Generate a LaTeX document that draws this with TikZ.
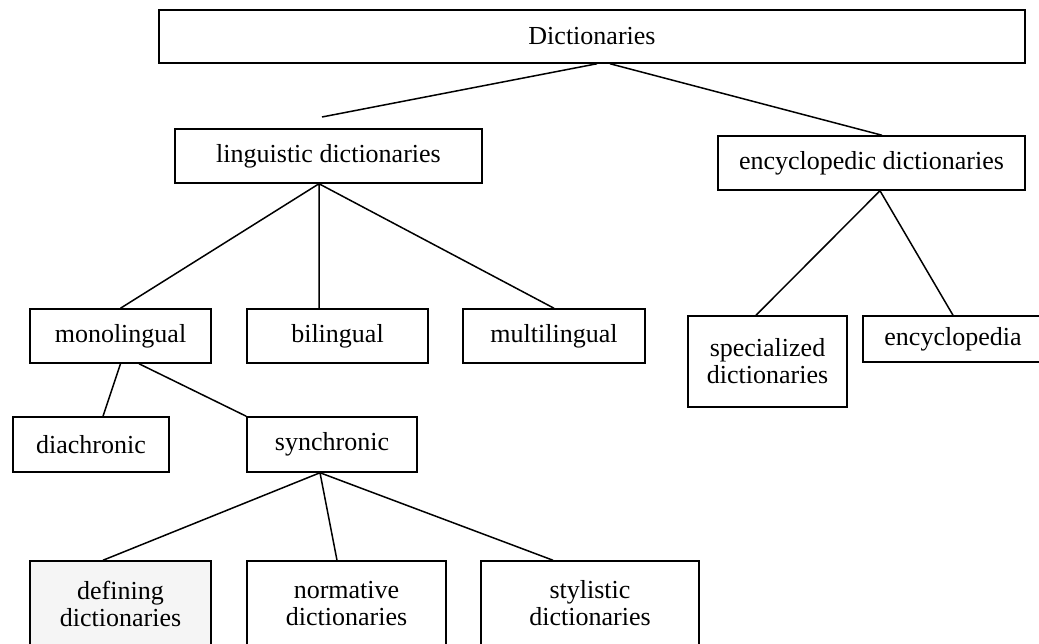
\documentclass[tikz,border=0pt]{standalone}
\usepackage{fontspec}
\setmainfont{Liberation Serif}

\begin{document}
\begin{tikzpicture}[
        x=1pt, y=-1pt,
        every node/.style={font=\fontsize{26}{27}\selectfont},
        box/.style={draw, line width=1.5pt, inner sep=0pt, align=center},
        link/.style={line width=1.5pt},
    ]
    \path[use as bounding box, clip] (0,0) rectangle (1039,644);

    % Top box
    \node[box, minimum width=866pt, minimum height=53pt] (dict) at (592, 36.5) {Dictionaries};

    % Second level
    \node[box, minimum width=307pt, minimum height=54pt] (ling) at (328.5, 156) {linguistic dictionaries};
    \node[box, minimum width=307pt, minimum height=54pt] (enc) at (871.5, 163) {encyclopedic dictionaries};
    \coordinate (lingtop) at (322, 117);

    % Linguistic branch
    \node[box, minimum width=181pt, minimum height=54pt] (mono) at (120.5, 336) {monolingual};
    \node[box, minimum width=181pt, minimum height=54pt] (bil) at (337.5, 336) {bilingual};
    \node[box, minimum width=182pt, minimum height=54pt] (multi) at (554, 336) {multilingual};

    % Encyclopedic branch
    \node[box, minimum width=159pt, minimum height=91pt] (spec) at (767.5, 361.5) {specialized\\dictionaries};
    \node[box, minimum width=180pt, minimum height=46pt] (ency) at (953, 339) {encyclopedia};

    % Monolingual branch
    \node[box, minimum width=156pt, minimum height=55pt] (dia) at (91, 444.5) {diachronic};
    \node[box, minimum width=170pt, minimum height=55pt] (syn) at (332, 444.5) {synchronic};

    % Synchronic branch
    \node[box, fill=black!4, minimum width=181pt, minimum height=85pt] (def) at (120.5, 603.5) {defining\\dictionaries};
    \node[box, minimum width=199pt, minimum height=85pt] (norm) at (346.5, 603.5) {normative\\dictionaries};
    \node[box, minimum width=218pt, minimum height=85pt] (sty) at (590, 603.5) {stylistic\\dictionaries};

    % Connectors
    \draw[link] ([xshift=5pt]dict.south) -- (lingtop);
    \draw[link] ([xshift=18pt]dict.south) -- ([xshift=10.5pt]enc.north);

    \draw[link] (mono.north) -- ([xshift=-9.5pt]ling.south) -- ([xshift=-18.5pt]bil.north);
    \draw[link] ([xshift=-9.5pt]ling.south) -- (multi.north);

    \draw[link] ([xshift=-11.5pt]spec.north) -- ([xshift=8.5pt]enc.south) -- (ency.north);

    \draw[link] (mono.south) -- ([xshift=12pt]dia.north);
    \draw[link] ([xshift=18.5pt]mono.south) -- (syn.north west);

    \draw[link] ([xshift=-17.5pt]def.north) -- ([xshift=-12pt]syn.south) -- ([xshift=-9.5pt]norm.north);
    \draw[link] ([xshift=-12pt]syn.south) -- ([xshift=-37pt]sty.north);
\end{tikzpicture}
\end{document}
